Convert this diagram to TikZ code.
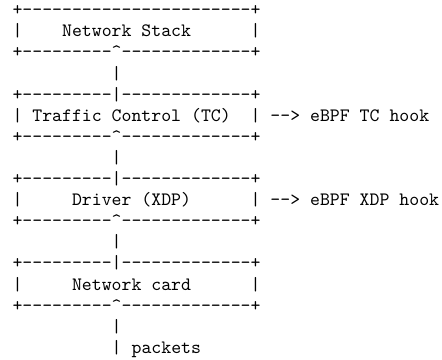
\documentclass[tikz,border=0pt]{standalone}
\begin{document}
\begin{tikzpicture}[x=5.25pt,y=-11.17pt,
  ascii/.style={anchor=base west,inner sep=0pt,outer sep=0pt,font=\ttfamily}]
\def\fulledge{+-----------------------+}
\def\upedge{+---------\string^-------------+}
\def\joinedge{+---------|-------------+}

\useasboundingbox (-1.263,-0.743) rectangle (43.29,16.31);

% Network Stack
\node[ascii] (stacktop) at (0,0) {\fulledge};
\node[ascii] (stackl) at (0,1) {|};
\node[ascii] (stack) at (5,1) {Network Stack};
\node[ascii] (stackr) at (24,1) {|};
\node[ascii] (stackbot) at (0,2) {\upedge};
\node[ascii] (pipea) at (10,3) {|};

% Traffic Control
\node[ascii] (tctop) at (0,4) {\joinedge};
\node[ascii] (tcl) at (0,5) {|};
\node[ascii] (tc) at (2,5) {Traffic Control (TC)};
\node[ascii] (tcr) at (24,5) {|};
\node[ascii] (tchook) at (26,5) {--> eBPF TC hook};
\node[ascii] (tcbot) at (0,6) {\upedge};
\node[ascii] (pipeb) at (10,7) {|};

% Driver
\node[ascii] (xdptop) at (0,8) {\joinedge};
\node[ascii] (xdpl) at (0,9) {|};
\node[ascii] (xdp) at (6,9) {Driver (XDP)};
\node[ascii] (xdpr) at (24,9) {|};
\node[ascii] (xdphook) at (26,9) {--> eBPF XDP hook};
\node[ascii] (xdpbot) at (0,10) {\upedge};
\node[ascii] (pipec) at (10,11) {|};

% Network card
\node[ascii] (cardtop) at (0,12) {\joinedge};
\node[ascii] (cardl) at (0,13) {|};
\node[ascii] (card) at (6,13) {Network card};
\node[ascii] (cardr) at (24,13) {|};
\node[ascii] (cardbot) at (0,14) {\upedge};
\node[ascii] (piped) at (10,15) {|};
\node[ascii] (pipee) at (10,16) {|};
\node[ascii] (packets) at (12,16) {packets};
\end{tikzpicture}
\end{document}
